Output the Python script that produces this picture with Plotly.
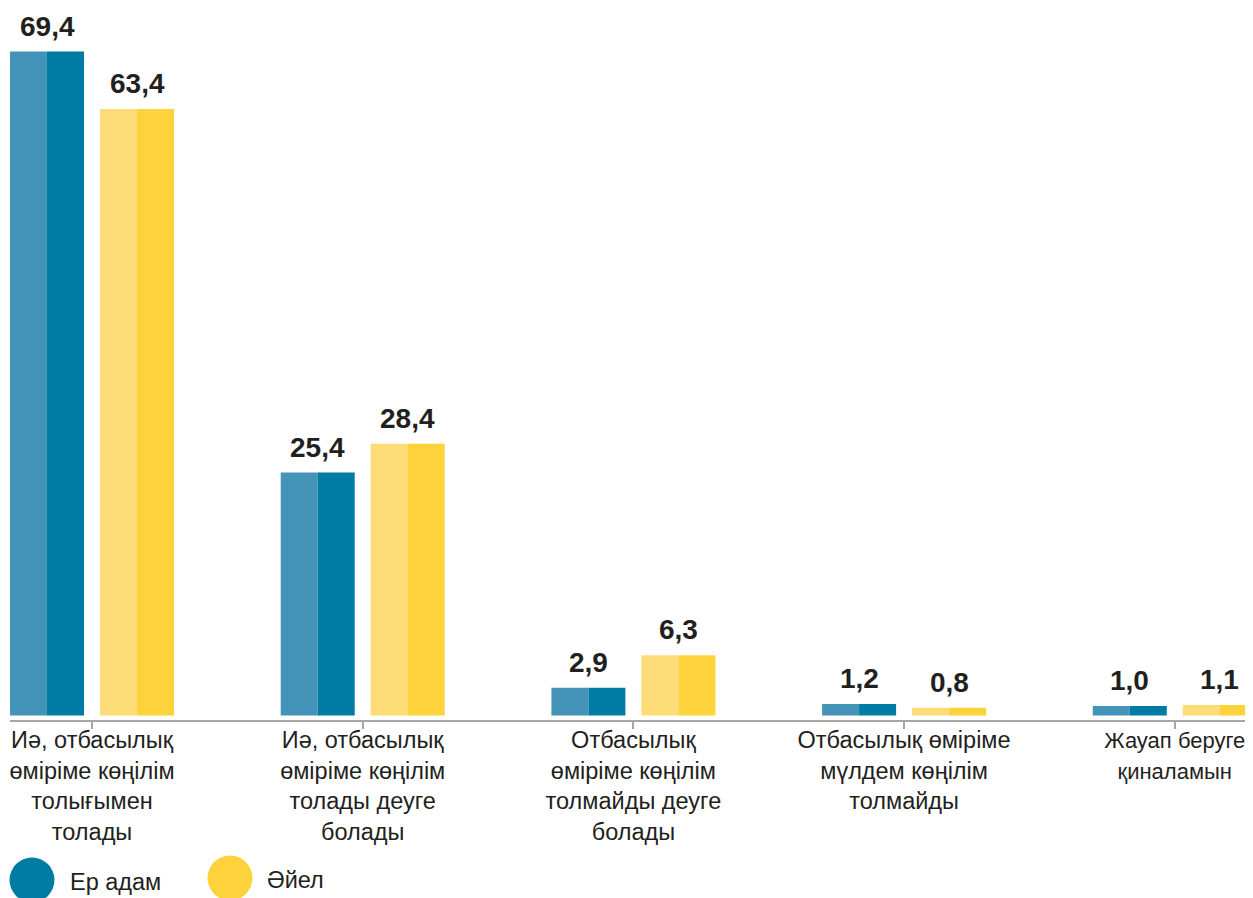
import plotly.graph_objects as go

categories = [
    "Иә, отбасылық<br>өміріме көңілім<br>толығымен<br>толады",
    "Иә, отбасылық<br>өміріме көңілім<br>толады деуге<br>болады",
    "Отбасылық<br>өміріме көңілім<br>толмайды деуге<br>болады",
    "Отбасылық өміріме<br>мүлдем көңілім<br>толмайды",
    "Жауап беруге<br>қиналамын",
]
men = [69.4, 25.4, 2.9, 1.2, 1.0]
women = [63.4, 28.4, 6.3, 0.8, 1.1]
men_labels = ["69,4", "25,4", "2,9", "1,2", "1,0"]
women_labels = ["63,4", "28,4", "6,3", "0,8", "1,1"]
series_names = ["Ер адам", "Әйел"]

MEN_LIGHT = "#4394b8"
MEN_DARK = "#007ba3"
WOMEN_LIGHT = "#fddb76"
WOMEN_DARK = "#fed23a"
TEXT = "#231f20"
FONT = "Liberation Sans, Arial, sans-serif"

half = 0.1367
fig = go.Figure()
for vals, light, dark, start in [
    (men, MEN_LIGHT, MEN_DARK, -0.3029),
    (women, WOMEN_LIGHT, WOMEN_DARK, 0.0296),
]:
    fig.add_trace(go.Bar(x=categories, y=vals, offset=start, width=half,
                         marker=dict(color=light, line=dict(width=0)),
                         showlegend=False, hoverinfo="skip"))
    fig.add_trace(go.Bar(x=categories, y=vals, offset=start + half, width=half,
                         marker=dict(color=dark, line=dict(width=0)),
                         showlegend=False, hoverinfo="skip"))

annotations = []
for vals, labs, shift in [(men, men_labels, -45), (women, women_labels, 45)]:
    for cat, v, lab in zip(categories, vals, labs):
        annotations.append(dict(x=cat, y=v, text="<b>" + lab + "</b>", showarrow=False,
                                xshift=shift, yshift=8, yanchor="bottom", xanchor="center",
                                font=dict(family=FONT, size=28, color=TEXT)))

# page body has an 8px margin; figure coordinates are offset accordingly
OFF = 8
W, H = 1253 - OFF, 898 - OFF
L, R, T = 10 - OFF, 0, 20 - OFF
AXIS_Y = 720 - OFF
B = H - AXIS_Y
pw, ph = W - L - R, H - T - B

def px(x):
    return (x - OFF - L) / pw

def py(y):
    return (AXIS_Y - (y - OFF)) / ph

shapes = []
for cx, cy, col in [(32, 880, MEN_DARK), (230, 878, WOMEN_DARK)]:
    shapes.append(dict(type="circle", xref="paper", yref="paper",
                       xsizemode="pixel", ysizemode="pixel",
                       xanchor=px(cx), yanchor=py(cy),
                       x0=-22.5, x1=22.5, y0=-22.5, y1=22.5,
                       fillcolor=col, line=dict(width=0)))
for tx, ty, name in [(68, 882, series_names[0]), (265, 880, series_names[1])]:
    annotations.append(dict(xref="paper", yref="paper", x=px(tx), y=py(ty),
                            xanchor="left", yanchor="middle", text=name,
                            showarrow=False,
                            font=dict(family=FONT, size=23.5, color=TEXT)))

# the last label sits at the right edge: draw it slightly smaller so it fits
ticktext = list(categories)
ticktext[-1] = '<span style="font-size:22px">' + categories[-1] + "</span>"

fig.update_layout(
    width=W, height=H,
    margin=dict(l=L, r=R, t=T, b=B),
    barmode="overlay",
    plot_bgcolor="white", paper_bgcolor="white",
    showlegend=False,
    annotations=annotations,
    shapes=shapes,
    font=dict(family=FONT, color=TEXT),
)
fig.update_xaxes(type="category", range=[-0.303, 4.289],
                 tickmode="array", tickvals=categories, ticktext=ticktext,
                 showline=True, linecolor="#a6a6a6", linewidth=2,
                 ticks="outside", ticklen=7, tickwidth=2, tickcolor="#a6a6a6",
                 tickfont=dict(family=FONT, size=23.5, color=TEXT),
                 ticklabelstandoff=-9,
                 showgrid=False, zeroline=False, fixedrange=True)
fig.update_yaxes(range=[-0.47, 72.7], visible=False, showgrid=False,
                 zeroline=False, fixedrange=True)

fig.write_html("out.html")
